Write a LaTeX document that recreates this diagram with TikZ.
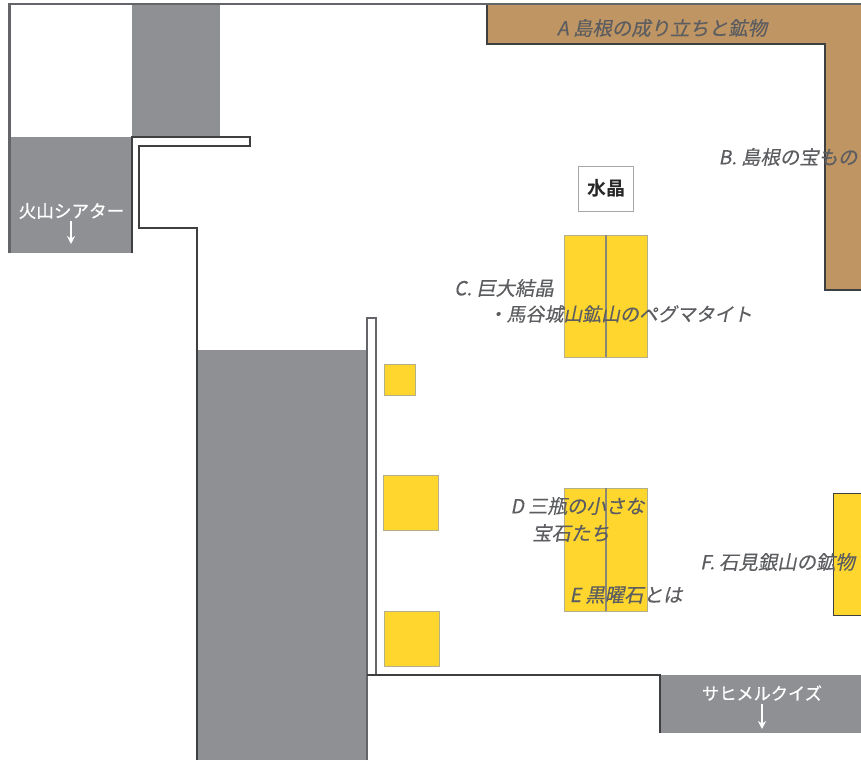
\documentclass[tikz,border=0pt]{standalone}
\usepackage{fontspec}
\usetikzlibrary{arrows.meta}
\newfontfamily\jp[FakeBold=0.6]{Noto Sans CJK JP}
\newfontfamily\jpi[FakeSlant=0.2,FakeBold=0.3]{Noto Sans CJK JP}
\newfontfamily\jpb{Noto Sans CJK JP Bold}
\definecolor{wallgrey}{HTML}{8F9094}
\definecolor{wallline}{HTML}{3E3F41}
\definecolor{brownzone}{HTML}{BF9563}
\definecolor{caseyellow}{HTML}{FFD62E}
\definecolor{casefrm}{HTML}{B5AE8A}
\definecolor{casediv}{HTML}{8A8778}
\definecolor{labelgrey}{HTML}{5C5D60}
\tikzset{
  x=1pt,y=-1pt,
  wall/.style={draw=wallline,line width=1.6pt},
  outerwall/.style={draw=wallgrey!70!black,line width=2.4pt},
  greyblock/.style={fill=wallgrey},
  case/.style={fill=caseyellow,draw=casefrm,line width=0.9pt},
  casedivider/.style={draw=casediv,line width=1.3pt},
  zonelabel/.style={inner sep=0pt,text=labelgrey,font=\jpi\fontsize{19.4}{22}\selectfont,align=center},
  whitelabel/.style={inner sep=0pt,text=white,font=\jp\fontsize{17.6}{20}\selectfont},
  whitearrow/.style={draw=white,line width=1.4pt,-{Stealth[length=8pt,width=8pt]}}
}
\begin{document}
\begin{tikzpicture}
\useasboundingbox[fill=white] (0,0) rectangle (861,760);
% grey blocks
\fill[greyblock] (132,4) rectangle (220,137);
\fill[greyblock] (10,137) rectangle (132,253);
\fill[greyblock] (197,350) rectangle (367,760);
\fill[greyblock] (660,675) rectangle (861,733);
% brown zone
\path[fill=brownzone,draw=wallline,line width=1.5pt] (861,4) -- (487,4) -- (487,44) -- (825,44) -- (825,290) -- (861,290);
% walls
\draw[outerwall] (861,4) -- (9.5,4) -- (9.5,253);
\draw[wall] (132,253) -- (132,137) -- (250,137) -- (250,146) -- (139,146) -- (139,228) -- (197,228) -- (197,760);
\draw[outerwall,line width=2pt] (367,760) -- (367,318) -- (376,318) -- (376,675);
\draw[wall] (367,675) -- (660,675) -- (660,733);
% cases
\draw[case] (564,235) rectangle (647,357);
\draw[casedivider] (606,235) -- (606,357);
\draw[case] (564,488) rectangle (647,611);
\draw[casedivider] (606,488) -- (606,611);
\draw[case] (384,364) rectangle (415,395);
\draw[case] (383,475) rectangle (438,530);
\draw[case] (384,611) rectangle (439,666);
\path[case,draw=wallline] (861,493) -- (833,493) -- (833,615) -- (861,615);
% crystal
\node[draw=gray!70,line width=1pt,minimum width=55pt,minimum height=45pt,inner sep=0pt,fill=white,font=\jpb\fontsize{19}{22}\selectfont,text=black!85] (crystal) at (606,188.5) {\raisebox{-2pt}{水晶}};
% labels
\node[zonelabel] (lA) at (662,28) {A 島根の成り立ちと鉱物};
\node[zonelabel] (lB) at (788,157) {B. 島根の宝もの};
\node[zonelabel] (lC) at (504,288) {C. 巨大結晶};
\node[zonelabel,font=\jpi\fontsize{18.9}{22}\selectfont] (lC2) at (620,314) {・馬谷城山鉱山のペグマタイト};
\node[zonelabel] (lD) at (577.5,506) {D 三瓶の小さな};
\node[zonelabel] (lD2) at (571,533) {宝石たち};
\node[zonelabel] (lE) at (626,595) {E 黒曜石とは};
\node[zonelabel] (lF) at (777.5,562) {F. 石見銀山の鉱物};
\node[whitelabel] (volcano) at (71.5,211) {火山シアター};
\coordinate (va) at (71,221);
\coordinate (vb) at (71,244);
\draw[whitearrow] (va) -- (vb);
\node[whitelabel,font=\jp\fontsize{17.2}{20}\selectfont] (quiz) at (762,693) {サヒメルクイズ};
\coordinate (qa) at (762,704);
\coordinate (qb) at (762,729);
\draw[whitearrow] (qa) -- (qb);
\end{tikzpicture}
\end{document}
